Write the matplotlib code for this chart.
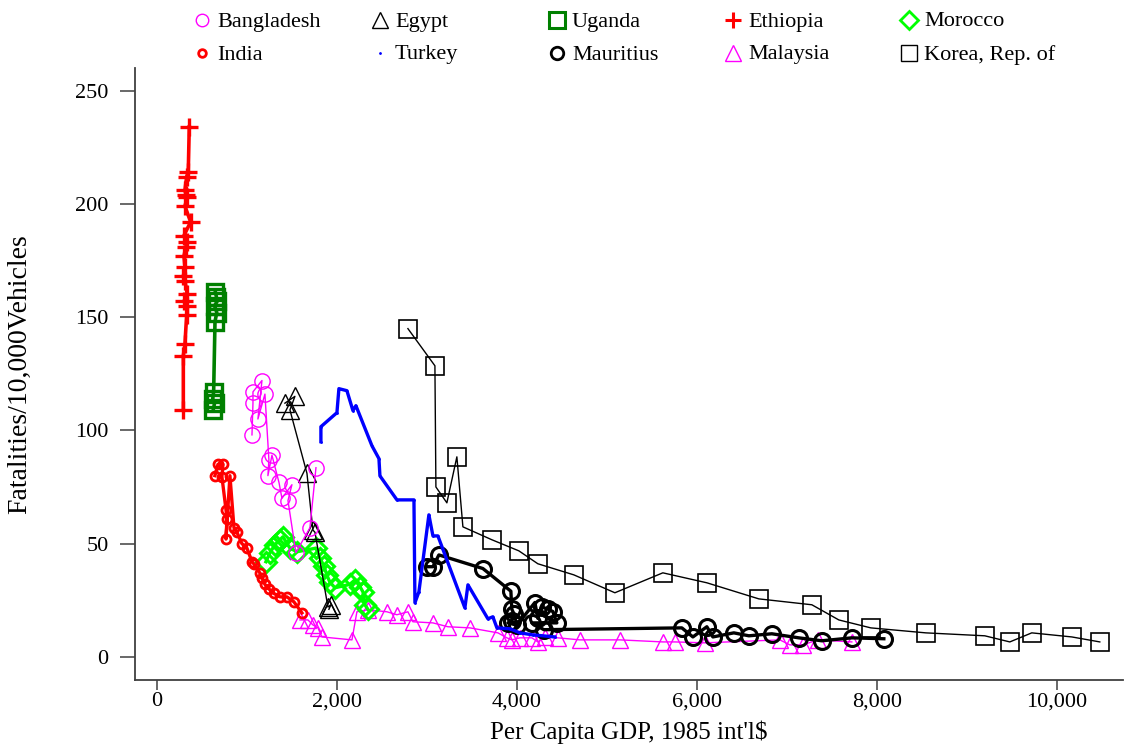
import matplotlib
matplotlib.use("Agg")
import matplotlib.pyplot as plt
from matplotlib.lines import Line2D
from matplotlib.ticker import FuncFormatter

plt.rcParams['font.family'] = ['Liberation Serif', 'DejaVu Serif']

# per capita GDP (1985 int'l $) and fatalities per 10,000 vehicles
ethiopia_gdp = [359, 348, 330, 311, 322, 337, 311, 374, 300, 330, 322, 300, 311,
                293, 311, 337, 300, 330, 330, 311, 293, 293]
ethiopia_val = [234, 214, 212, 206, 204, 203, 199, 192, 186, 183, 181, 177, 172,
                168, 166, 160, 157, 155, 151, 138, 133, 109]

uganda_gdp = [650, 660, 670, 640, 665, 645, 630, 620, 640, 625]
uganda_val = [161, 159, 157, 155, 152, 148, 117, 114, 112, 109]

bangladesh_gdp = [1056, 1067, 1067, 1167, 1122, 1200, 1244, 1233, 1278, 1356,
                  1389, 1500, 1456, 1544, 1700, 1767]
bangladesh_val = [98, 112, 117, 122, 105, 116, 87, 80, 89, 77, 70, 76, 69, 46, 57, 83.5]

egypt_gdp = [1422, 1533, 1478, 1667, 1733, 1756, 1900, 1933, 1911]
egypt_val = [112, 115, 109, 81, 56, 55, 22, 23, 21]

india_gdp = [644, 678, 733, 722, 767, 778, 767, 811, 856, 889, 944, 1000, 1056,
             1078, 1144, 1167, 1200, 1244, 1300, 1367, 1444, 1522, 1611]
india_val = [80, 85, 85, 79.5, 65, 61, 52, 80, 57, 55, 50, 48, 42, 41, 37, 35,
             32, 30, 28, 26.5, 26.5, 24.3, 19.4]

morocco_gdp = [1211, 1256, 1311, 1367, 1400, 1478, 1556, 1767, 1811, 1856, 1889,
               1922, 1978, 2144, 2200, 2256, 2289, 2311, 2344]
morocco_val = [42, 46, 49.5, 51.7, 53, 48, 46.4, 48, 43.7, 40, 36, 33, 30.5, 32,
               34, 31, 28.7, 23, 21]

turkey_gdp = [1822, 1822, 2000, 2022, 2111, 2178, 2211, 2389, 2467, 2478, 2667,
              2856, 2867, 2911, 3022, 3067, 3122, 3422, 3456, 3678, 3733, 3778,
              3922, 4033, 4178, 4422]
turkey_val = [95, 101.6, 107.8, 118.4, 117.5, 108.7, 110.9, 93.2, 87.5, 79.9, 69.3,
              69.3, 23.9, 28.7, 62.7, 53.4, 53.4, 21.6, 31.8, 16.8, 17.7, 12.8,
              12.4, 10.6, 9.7, 8.8]

mauritius_gdp = [3000, 3067, 3133, 3622, 3933, 3944, 3967, 3944, 3900, 4000, 4200,
                 4233, 4278, 4350, 4400, 4444, 4167, 4300, 5833, 5956, 6111, 6178,
                 6411, 6578, 6833, 7133, 7389, 7722, 8078]
mauritius_val = [39.8, 39.8, 45, 39, 29, 21, 19, 16, 15, 14, 24, 17, 22, 21, 20,
                 15, 15, 12, 12.8, 8.8, 13.3, 8.8, 10.6, 9.3, 10.2, 8.4, 7.1, 8.4, 8.0]

malaysia_gdp = [1589, 1678, 1733, 1789, 1833, 2167, 2222, 2344, 2556, 2667, 2789,
                2844, 3067, 3233, 3478, 3789, 3889, 3944, 4033, 4167, 4233, 4311,
                4456, 4700, 5144, 5622, 5756, 6089, 6922, 7033, 7178, 7344, 7722]
malaysia_val = [16.3, 16.3, 14.1, 12.8, 8.8, 7.5, 19.9, 20.8, 19.9, 18.6, 19.9,
                15.5, 15.0, 13.3, 12.8, 10.6, 8.4, 7.5, 8.4, 8.4, 6.6, 8.8, 8.4,
                7.5, 7.5, 6.6, 6.6, 6.2, 7.5, 5.3, 5.3, 7.5, 6.6]

korea_gdp = [2789, 3089, 3100, 3222, 3333, 3400, 3722, 4022, 4233, 4633, 5089,
             5622, 6111, 6689, 7278, 7578, 7933, 8544, 9200, 9478, 9722, 10167, 10478]
korea_val = [144.9, 128.5, 75.0, 68.0, 88.3, 57.4, 51.7, 46.8, 41.1, 36.2, 28.3,
             37.1, 32.7, 25.6, 23.0, 16.3, 12.8, 10.6, 9.3, 6.6, 10.6, 8.8, 6.6]

fig = plt.figure(figsize=(11.25, 7.46), dpi=100)
ax = fig.add_axes([0.12, 0.0885, 0.878, 0.8205])

magenta = '#ff00ff'
green = '#008000'
lime = '#00ff00'

ax.plot(korea_gdp, korea_val, color='black', lw=1.0, marker='s', ms=13,
        mfc='none', mec='black', mew=1.2, zorder=2)
ax.plot(malaysia_gdp, malaysia_val, color=magenta, lw=1.0, marker='^', ms=12,
        mfc='none', mec=magenta, mew=1.0, zorder=2)
ax.plot(mauritius_gdp, mauritius_val, color='black', lw=2.4, marker='o', ms=11.5,
        mfc='none', mec='black', mew=2.2, zorder=3)
ax.plot(turkey_gdp, turkey_val, color='blue', lw=2.4, marker='.', ms=2,
        zorder=3)
ax.plot(morocco_gdp, morocco_val, color=lime, lw=2.4, marker='D', ms=10,
        mfc='none', mec=lime, mew=2.2, zorder=3)
ax.plot(india_gdp, india_val, color='red', lw=2.4, marker='o', ms=6.5,
        mfc='none', mec='red', mew=2.0, zorder=3)
ax.plot(egypt_gdp, egypt_val, color='black', lw=1.0, marker='^', ms=13,
        mfc='none', mec='black', mew=1.0, zorder=3)
ax.plot(bangladesh_gdp, bangladesh_val, color=magenta, lw=1.0, marker='o', ms=11,
        mfc='none', mec=magenta, mew=1.0, zorder=3)
ax.plot(uganda_gdp, uganda_val, color=green, lw=2.6, marker='s', ms=11.5,
        mfc='none', mec=green, mew=2.4, zorder=3)
ax.plot(ethiopia_gdp, ethiopia_val, color='red', lw=2.6, marker='+', ms=13,
        mec='red', mew=2.4, zorder=3)

ax.set_xlim(-244, 10733)
ax.set_ylim(-10.2, 260)
ax.set_xticks([0, 2000, 4000, 6000, 8000, 10000])
ax.set_yticks([0, 50, 100, 150, 200, 250])
ax.xaxis.set_major_formatter(FuncFormatter(lambda v, p: f'{int(v):,}'))
for s in ['top', 'right']:
    ax.spines[s].set_visible(False)
for s in ['left', 'bottom']:
    ax.spines[s].set_color('#404040')
    ax.spines[s].set_linewidth(1.3)
ax.tick_params(axis='y', length=11, width=1.1, color='#404040', labelsize=16, pad=8)
ax.tick_params(axis='x', length=7, width=1.1, color='#404040', labelsize=16, pad=2)
ax.set_xlabel("Per Capita GDP, 1985 int'l$", fontsize=18)
ax.set_ylabel("Fatalities/10,000Vehicles", fontsize=20)
ax.xaxis.set_label_coords(0.5, -0.066)
ax.yaxis.set_label_coords(-0.104, 0.5)

# legend, two rows of five
entries = [
    ('Bangladesh', dict(marker='o', ms=9, mfc='none', mec=magenta, mew=1.0)),
    ('Egypt', dict(marker='^', ms=11, mfc='none', mec='black', mew=1.0)),
    ('Uganda', dict(marker='s', ms=11, mfc='none', mec=green, mew=2.2)),
    ('Ethiopia', dict(marker='+', ms=11, mec='red', mew=2.2)),
    ('Morocco', dict(marker='D', ms=9, mfc='none', mec=lime, mew=2.0)),
    ('India', dict(marker='o', ms=5.5, mfc='none', mec='red', mew=2.0)),
    ('Turkey', dict(marker='.', ms=2, mec='blue', mfc='blue')),
    ('Mauritius', dict(marker='o', ms=9, mfc='none', mec='black', mew=2.0)),
    ('Malaysia', dict(marker='^', ms=11, mfc='none', mec=magenta, mew=1.0)),
    ('Korea, Rep. of', dict(marker='s', ms=11, mfc='none', mec='black', mew=1.0)),
]
col_x = [202, 380, 557, 733, 909]
row_y = [20, 53]
for i, (label, style) in enumerate(entries):
    xm = col_x[i % 5] / 1125
    ym = 1 - row_y[i // 5] / 746
    fig.add_artist(Line2D([xm], [ym], linestyle='none', transform=fig.transFigure, **style))
    fig.text(xm + 15 / 1125, ym - 2 / 746, label, fontsize=16, va='center', ha='left')

fig.savefig('out.png', dpi=100)
